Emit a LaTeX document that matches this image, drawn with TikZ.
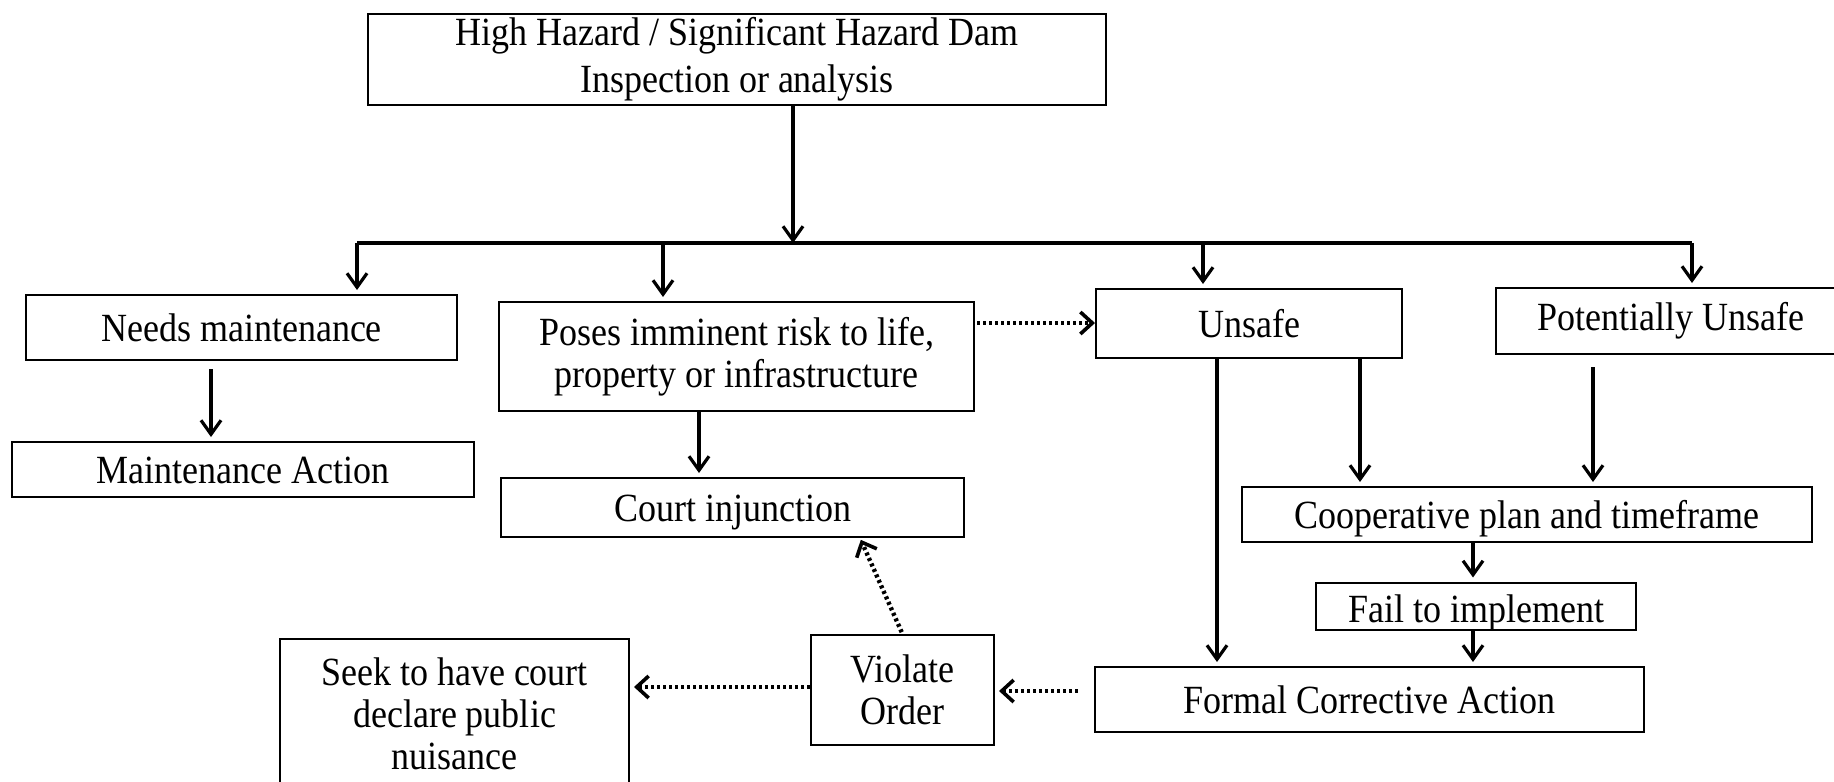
\documentclass[tikz,border=0pt]{standalone}
\usepackage{fontspec}
\setmainfont[FakeStretch=0.9]{Liberation Serif}
\usetikzlibrary{arrows.meta}

\begin{document}
\begin{tikzpicture}[x=0.5pt, y=-0.5pt,
    box/.style={draw, line width=1pt, align=center, inner sep=0pt, font=\fontsize{20}{21}\selectfont},
    low/.style={text height=15pt, text depth=1pt},
    arr/.style={line width=1.6pt, shorten >=2pt, -{Straight Barb[length=7pt, width=10pt, line width=1.6pt]}},
    dotarr/.style={line width=2.2pt, dash pattern=on 1.5pt off 1.5pt, -{Straight Barb[length=6pt, width=11pt, line width=1.8pt]}}]

    \useasboundingbox (0,0) rectangle (1834,781);

    \node[box, minimum width=369pt, minimum height=45.5pt, font=\fontsize{20}{23.5}\selectfont] (top) at (737,59.5) {High Hazard / Significant Hazard Dam\\Inspection or analysis};

    \node[box, minimum width=215.5pt, minimum height=32.5pt] (needs) at (241.5,327.5) {Needs maintenance};
    \node[box, minimum width=237.5pt, minimum height=54.5pt] (poses) at (736.5,356.5) {Poses imminent risk to life,\\property or infrastructure};
    \node[box, minimum width=153pt, minimum height=34.5pt] (unsafe) at (1249,323.5) {Unsafe};
    \node[box, minimum width=174.5pt, minimum height=33pt] (pot) at (1670.5,321) {Potentially Unsafe};

    \node[box, low, minimum width=231pt, minimum height=27.5pt] (maint) at (243,469.5) {Maintenance Action};
    \node[box, low, minimum width=231.5pt, minimum height=29.5pt] (court) at (732.5,507.5) {Court injunction};
    \node[box, low, minimum width=285pt, minimum height=27.5pt] (coop) at (1527,514.5) {Cooperative plan and timeframe};
    \node[box, text height=16.5pt, text depth=0pt, minimum width=160pt, minimum height=23.5pt] (fail) at (1476,606) {Fail to implement};
    \node[box, minimum width=274.5pt, minimum height=32.5pt] (formal) at (1369.5,699.5) {Formal Corrective Action};
    \node[box, minimum width=91.5pt, minimum height=55pt] (violate) at (902.5,690) {Violate\\Order};
    \node[box, minimum width=174.5pt, minimum height=75pt] (seek) at (454.5,714) {Seek to have court\\declare public\\nuisance};

    % split bar under the top box
    \coordinate (split) at (793,243);
    \coordinate (b1) at (357,243);
    \coordinate (b2) at (663,243);
    \coordinate (b3) at (1203,243);
    \coordinate (b4) at (1692,243);
    \draw[arr, shorten >=0pt] (top.south -| split) -- (split);
    \draw[line width=1.8pt] (b1) -- (b4);
    \draw[arr] (b1) -- (needs.north -| b1);
    \draw[arr] (b2) -- (poses.north -| b2);
    \draw[arr] (b3) -- (unsafe.north -| b3);
    \draw[arr] (b4) -- (pot.north -| b4);

    % columns of the lower arrows
    \coordinate (c1) at (211,0);
    \coordinate (c2) at (699,0);
    \coordinate (c3) at (1217,0);
    \coordinate (c4) at (1360,0);
    \coordinate (c5) at (1593,0);
    \coordinate (c6) at (1473,0);
    \draw[arr, shorten <=4pt] (needs.south -| c1) -- (maint.north -| c1);
    \draw[arr] (poses.south -| c2) -- (court.north -| c2);
    \draw[arr] (unsafe.south -| c3) -- (formal.north -| c3);
    \draw[arr] (unsafe.south -| c4) -- (coop.north -| c4);
    \draw[arr, shorten <=6pt] (pot.south -| c5) -- (coop.north -| c5);
    \draw[arr] (coop.south -| c6) -- (fail.north -| c6);
    \draw[arr] (fail.south -| c6) -- (formal.north -| c6);

    % dotted links
    \coordinate (r1) at (0,323);
    \coordinate (r2) at (0,691);
    \coordinate (r3) at (0,687);
    \coordinate (c7) at (860,0);
    \draw[dotarr, shorten <=1pt] (poses.east |- r1) -- (unsafe.west |- r1);
    \draw[dotarr, shorten <=8pt, shorten >=2pt] (formal.west |- r2) -- (violate.east |- r2);
    \draw[dotarr, shorten >=2pt] (violate.west |- r3) -- (seek.east |- r3);
    \draw[dotarr, shorten <=1pt, shorten >=1pt] (violate.north) -- (court.south -| c7);

\end{tikzpicture}
\end{document}
